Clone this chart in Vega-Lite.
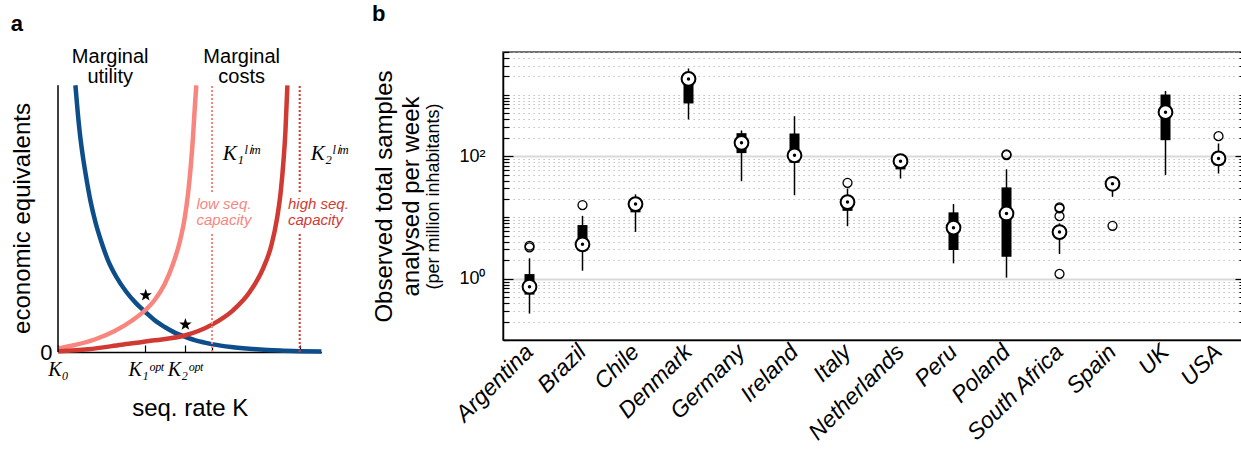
{
  "$schema": "https://vega.github.io/schema/vega-lite/v6.json",
  "padding": {"left": 10, "top": 2, "right": 0, "bottom": 0},
  "autosize": {"type": "pad"},
  "config": {
    "font": "Liberation Sans",
    "axis": {"labelColor": "black", "titleColor": "black", "domainColor": "black", "tickColor": "black", "labelFont": "Liberation Sans", "titleFont": "Liberation Sans", "titleFontWeight": "normal"},
    "title": {"font": "Liberation Sans", "fontSize": 22, "fontWeight": "bold", "anchor": "start", "frame": "bounds", "color": "black"},
    "view": {"stroke": null}
  },
  "spacing": 22,
  "hconcat": [
    {
      "title": {"text": "a", "offset": 11},
      "width": 263.4,
      "height": 300,
      "layer": [
        {
          "data": {"values": [
            {"curve": "utility", "k": 17.4, "e": 266.7}, {"curve": "utility", "k": 19.4, "e": 243.4}, {"curve": "utility", "k": 21.7, "e": 220},
            {"curve": "utility", "k": 24.7, "e": 196.7}, {"curve": "utility", "k": 28.4, "e": 173.4}, {"curve": "utility", "k": 32.7, "e": 150},
            {"curve": "utility", "k": 37.4, "e": 130}, {"curve": "utility", "k": 43.4, "e": 110}, {"curve": "utility", "k": 50, "e": 91.7},
            {"curve": "utility", "k": 58.4, "e": 75}, {"curve": "utility", "k": 68.4, "e": 60}, {"curve": "utility", "k": 78.4, "e": 48.4},
            {"curve": "utility", "k": 87.4, "e": 40}, {"curve": "utility", "k": 96.7, "e": 31.7}, {"curve": "utility", "k": 106.7, "e": 25},
            {"curve": "utility", "k": 116.7, "e": 19.4}, {"curve": "utility", "k": 126.7, "e": 15.4}, {"curve": "utility", "k": 136.7, "e": 11.9},
            {"curve": "utility", "k": 146.7, "e": 9.4}, {"curve": "utility", "k": 155, "e": 7.6}, {"curve": "utility", "k": 175, "e": 4.8},
            {"curve": "utility", "k": 198.4, "e": 2.7}, {"curve": "utility", "k": 221.7, "e": 1.4}, {"curve": "utility", "k": 241.7, "e": 0.8},
            {"curve": "utility", "k": 263.4, "e": 0.4},
            {"curve": "low", "k": 0, "e": 3.4}, {"curve": "low", "k": 16.7, "e": 7}, {"curve": "low", "k": 36.7, "e": 12.5},
            {"curve": "low", "k": 56.7, "e": 21}, {"curve": "low", "k": 73.4, "e": 31}, {"curve": "low", "k": 87.4, "e": 42},
            {"curve": "low", "k": 96.7, "e": 52}, {"curve": "low", "k": 106.7, "e": 68}, {"curve": "low", "k": 115, "e": 88},
            {"curve": "low", "k": 121.7, "e": 110}, {"curve": "low", "k": 126.7, "e": 134}, {"curve": "low", "k": 130, "e": 158},
            {"curve": "low", "k": 132.7, "e": 185}, {"curve": "low", "k": 135, "e": 215}, {"curve": "low", "k": 136.7, "e": 243},
            {"curve": "low", "k": 138.3, "e": 266.7},
            {"curve": "high", "k": 0, "e": 0.7}, {"curve": "high", "k": 30, "e": 2.7}, {"curve": "high", "k": 63.4, "e": 7.2},
            {"curve": "high", "k": 96.7, "e": 11.7}, {"curve": "high", "k": 126.7, "e": 16.5}, {"curve": "high", "k": 154, "e": 27.4},
            {"curve": "high", "k": 175, "e": 41.7}, {"curve": "high", "k": 191.7, "e": 60}, {"curve": "high", "k": 205, "e": 83.4},
            {"curve": "high", "k": 213.4, "e": 106.7}, {"curve": "high", "k": 219, "e": 133.4}, {"curve": "high", "k": 222.7, "e": 160},
            {"curve": "high", "k": 225.4, "e": 190}, {"curve": "high", "k": 227.4, "e": 220}, {"curve": "high", "k": 228.4, "e": 243.4},
            {"curve": "high", "k": 229.4, "e": 266.7}
          ]},
          "mark": {"type": "line", "strokeWidth": 4.5, "interpolate": "monotone", "clip": false},
          "encoding": {
            "x": {"field": "k", "type": "quantitative", "scale": {"domain": [0, 263.4], "nice": false, "zero": false},
              "axis": {"values": [0, 87.4, 126.7, 154, 241.7],
                "labelExpr": "datum.value == 0 ? 'K₀' : datum.value == 87.4 ? 'K₁ᵒᵖᵗ' : datum.value == 126.7 ? 'K₂ᵒᵖᵗ' : ''",
                "tickSize": -7, "tickWidth": 1.2, "labelPadding": 14, "labelFont": "Liberation Serif", "labelFontStyle": "italic", "labelFontSize": 20,
                "labelOverlap": false, "labelFlush": false, "grid": false, "domainWidth": 1.5,
                "title": "seq. rate K", "titleFontSize": 24, "titlePadding": 17}},
            "y": {"field": "e", "type": "quantitative", "scale": {"domain": [0, 300], "nice": false, "zero": false},
              "axis": {"values": [0], "labelExpr": "'0'", "tickSize": 0, "ticks": false, "domain": false, "grid": false,
                "labelFontSize": 22, "labelPadding": 6, "title": "economic equivalents", "titleFontSize": 24, "titlePadding": 5, "titleY": 166}},
            "color": {"field": "curve", "type": "nominal", "scale": {"domain": ["utility", "low", "high"], "range": ["#0d4e8a", "#f8867f", "#d13a32"]}, "legend": null}
          }
        },
        {
          "data": {"values": [{"k": 0, "e": 0, "e2": 266.7}]},
          "mark": {"type": "rule", "strokeWidth": 1.5, "color": "black"},
          "encoding": {"x": {"field": "k", "type": "quantitative"}, "y": {"field": "e", "type": "quantitative"}, "y2": {"field": "e2"}}
        },
        {
          "data": {"values": [
            {"lim": "low", "k": 154, "e": 0, "e2": 120}, {"lim": "low", "k": 154, "e": 160, "e2": 266.7},
            {"lim": "high", "k": 241.7, "e": 0, "e2": 120}, {"lim": "high", "k": 241.7, "e": 160, "e2": 266.7}
          ]},
          "mark": {"type": "rule", "strokeWidth": 2, "strokeDash": [2, 2]},
          "encoding": {"x": {"field": "k", "type": "quantitative"}, "y": {"field": "e", "type": "quantitative"}, "y2": {"field": "e2"},
            "color": {"field": "lim", "type": "nominal", "legend": null}}
        },
        {
          "data": {"values": [{"k": 87.7, "e": 56.7}, {"k": 127.4, "e": 27.4}]},
          "mark": {"type": "point", "shape": "M0,-1L0.235,-0.324L0.951,-0.309L0.38,0.124L0.588,0.809L0,0.4L-0.588,0.809L-0.38,0.124L-0.951,-0.309L-0.235,-0.324Z", "filled": true, "color": "black", "size": 170, "opacity": 1},
          "encoding": {"x": {"field": "k", "type": "quantitative"}, "y": {"field": "e", "type": "quantitative"}}
        },
        {
          "data": {"values": [{"t": "Marginal\nutility", "k": 52.2, "e": 288.7}, {"t": "Marginal\ncosts", "k": 183.7, "e": 288.7}]},
          "mark": {"type": "text", "fontSize": 20, "align": "center", "baseline": "alphabetic", "lineBreak": "\n", "lineHeight": 20, "color": "black", "clip": false},
          "encoding": {"x": {"field": "k", "type": "quantitative"}, "y": {"field": "e", "type": "quantitative"}, "text": {"field": "t"}}
        },
        {
          "data": {"values": [{"t": "K₁ˡⁱᵐ", "k": 164.7, "e": 191.7}, {"t": "K₂ˡⁱᵐ", "k": 252.7, "e": 191.7}]},
          "mark": {"type": "text", "fontSize": 21, "font": "Liberation Serif", "fontStyle": "italic", "align": "left", "baseline": "alphabetic", "color": "black", "clip": false},
          "encoding": {"x": {"field": "k", "type": "quantitative"}, "y": {"field": "e", "type": "quantitative"}, "text": {"field": "t"}}
        },
        {
          "data": {"values": [{"t": "low seq.\ncapacity", "k": 138.4, "e": 142.7, "c": "low"}, {"t": "high seq.\ncapacity", "k": 230, "e": 142.7, "c": "high"}]},
          "mark": {"type": "text", "fontSize": 15, "fontStyle": "italic", "align": "left", "baseline": "alphabetic", "lineBreak": "\n", "lineHeight": 16, "clip": false},
          "encoding": {"x": {"field": "k", "type": "quantitative"}, "y": {"field": "e", "type": "quantitative"}, "text": {"field": "t"},
            "color": {"field": "c", "type": "nominal", "legend": null}}
        }
      ]
    },
    {
      "title": {"text": "b", "offset": 17},
      "width": 742,
      "height": 288,
      "view": {"stroke": "#444", "strokeWidth": 1.5},
      "encoding": {
        "x": {"field": "country", "type": "nominal",
          "scale": {"domain": ["Argentina", "Brazil", "Chile", "Denmark", "Germany", "Ireland", "Italy", "Netherlands", "Peru", "Poland", "South Africa", "Spain", "UK", "USA"], "paddingInner": 0, "paddingOuter": 0},
          "axis": {"title": null, "labelAngle": -45, "labelAlign": "right", "labelBaseline": "middle", "labelFontSize": 23, "labelFontStyle": "italic", "labelPadding": 8, "labelOverlap": false, "ticks": false, "domain": true, "domainWidth": 1.5, "grid": false}}
      },
      "resolve": {"axis": {"y": "independent"}},
      "layer": [
        {
          "data": {"name": "boxes", "values": [
            {"country": "Argentina", "lo": 0.27, "q1": 0.55, "med": 0.74, "q3": 1.19, "hi": 2.15},
            {"country": "Brazil", "lo": 1.35, "q1": 2.9, "med": 3.64, "q3": 7.5, "hi": 10.6},
            {"country": "Chile", "lo": 5.8, "q1": 12.1, "med": 16.5, "q3": 19, "hi": 23.8},
            {"country": "Denmark", "lo": 396, "q1": 723, "med": 1820, "q3": 2100, "hi": 2690},
            {"country": "Germany", "lo": 39, "q1": 112, "med": 165, "q3": 237, "hi": 262},
            {"country": "Ireland", "lo": 23, "q1": 78, "med": 103, "q3": 234, "hi": 449},
            {"country": "Italy", "lo": 7.2, "q1": 12.8, "med": 17.8, "q3": 20, "hi": 29.7},
            {"country": "Netherlands", "lo": 43, "q1": 60.7, "med": 82.8, "q3": 95, "hi": 95},
            {"country": "Peru", "lo": 1.78, "q1": 2.94, "med": 6.8, "q3": 12.1, "hi": 16.5},
            {"country": "Poland", "lo": 1.04, "q1": 2.28, "med": 11.6, "q3": 30.9, "hi": 61},
            {"country": "South Africa", "lo": 2.53, "q1": 5.2, "med": 5.77, "q3": 6.4, "hi": 8.0},
            {"country": "Spain", "lo": 21.7, "q1": 30, "med": 35.4, "q3": 40, "hi": 40},
            {"country": "UK", "lo": 49, "q1": 182, "med": 521, "q3": 1012, "hi": 1160},
            {"country": "USA", "lo": 52, "q1": 71, "med": 91.7, "q3": 115, "hi": 161}
          ]},
          "mark": {"type": "rule", "strokeWidth": 1.5, "color": "black"},
          "encoding": {
            "y": {"field": "lo", "type": "quantitative", "scale": {"type": "log", "domain": [0.1, 5000], "nice": false},
              "axis": {"orient": "left",
                "values": [0.1, 0.2, 0.3, 0.4, 0.5, 0.6, 0.7, 0.8, 0.9, 1, 2, 3, 4, 5, 6, 7, 8, 9, 10, 20, 30, 40, 50, 60, 70, 80, 90, 100, 200, 300, 400, 500, 600, 700, 800, 900, 1000, 2000, 3000, 4000, 5000],
                "labelExpr": "datum.value == 1 ? '10⁰' : datum.value == 100 ? '10²' : ''",
                "labelFontSize": 18, "labelPadding": 28, "labelOverlap": false, "labelFlush": false,
                "tickSize": {"condition": {"test": "datum.value == 1 || datum.value == 100", "value": -10}, "value": -6},
                "tickWidth": 1.2,
                "grid": true,
                "gridDash": {"condition": {"test": "datum.value == 1 || datum.value == 100", "value": []}, "value": [1.2, 3.8]},
                "gridColor": {"condition": {"test": "datum.value == 1 || datum.value == 100", "value": "#d9d9d9"}, "value": "#b0b0b0"},
                "gridWidth": {"condition": {"test": "datum.value == 1 || datum.value == 100", "value": 2}, "value": 1},
                "domainWidth": 1.5,
                "title": "(per million inhabitants)", "titleFontSize": 18, "titlePadding": 16}},
            "y2": {"field": "hi"}
          }
        },
        {
          "data": {"name": "boxes"},
          "mark": {"type": "bar", "width": 10, "color": "black"},
          "encoding": {
            "y": {"field": "q1", "type": "quantitative",
              "axis": {"orient": "left", "domain": false, "ticks": false, "labels": false, "grid": false,
                "title": ["Observed total samples", "analysed per week"], "titleFontSize": 24, "titleLineHeight": 27, "titlePadding": 80}},
            "y2": {"field": "q3"}
          }
        },
        {
          "data": {"name": "boxes"},
          "mark": {"type": "point", "filled": true, "fill": "white", "stroke": "black", "strokeWidth": 2, "size": 190, "opacity": 1},
          "encoding": {
            "y": {"field": "med", "type": "quantitative",
              "axis": {"orient": "right",
                "values": [0.1, 0.2, 0.3, 0.4, 0.5, 0.6, 0.7, 0.8, 0.9, 1, 2, 3, 4, 5, 6, 7, 8, 9, 10, 20, 30, 40, 50, 60, 70, 80, 90, 100, 200, 300, 400, 500, 600, 700, 800, 900, 1000, 2000, 3000, 4000, 5000],
                "labels": false, "grid": false, "domain": false, "title": null,
                "tickSize": {"condition": {"test": "datum.value == 1 || datum.value == 100", "value": -10}, "value": -6},
                "tickWidth": 1.2}}
          }
        },
        {
          "data": {"name": "boxes"},
          "mark": {"type": "point", "filled": true, "color": "black", "size": 12, "opacity": 1},
          "encoding": {"y": {"field": "med", "type": "quantitative", "axis": null}}
        },
        {
          "data": {"values": [
            {"country": "Argentina", "v": 3.25}, {"country": "Argentina", "v": 3.45},
            {"country": "Brazil", "v": 15.9},
            {"country": "Italy", "v": 36.7},
            {"country": "Poland", "v": 104}, {"country": "Poland", "v": 107},
            {"country": "South Africa", "v": 14.6}, {"country": "South Africa", "v": 14.0}, {"country": "South Africa", "v": 10.5}, {"country": "South Africa", "v": 1.2},
            {"country": "Spain", "v": 7.3},
            {"country": "USA", "v": 212}
          ]},
          "mark": {"type": "point", "filled": false, "stroke": "black", "strokeWidth": 1.3, "size": 80, "opacity": 1},
          "encoding": {"y": {"field": "v", "type": "quantitative", "axis": null}}
        }
      ]
    }
  ]
}
